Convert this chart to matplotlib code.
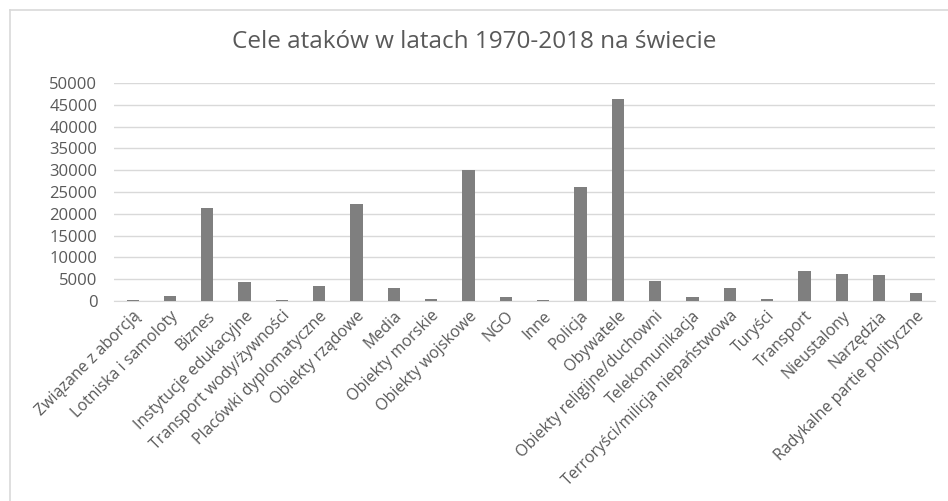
import matplotlib
matplotlib.use("Agg")
import matplotlib.pyplot as plt
from matplotlib.lines import Line2D

categories = [
    "Związane z aborcją", "Lotniska i samoloty", "Biznes", "Instytucje edukacyjne",
    "Transport wody/żywności", "Placówki dyplomatyczne", "Obiekty rządowe", "Media",
    "Obiekty morskie", "Obiekty wojskowe", "NGO", "Inne", "Policja", "Obywatele",
    "Obiekty religijne/duchowni", "Telekomunikacja", "Terroryści/milicja niepaństwowa",
    "Turyści", "Transport", "Nieustalony", "Narzędzia", "Radykalne partie polityczne",
]
values = [
    263, 1150, 21300, 4370, 317, 3450, 22250, 2930, 350, 30000, 850, 137,
    26100, 46300, 4530, 850, 3000, 440, 6840, 6300, 5920, 1850,
]
yticks = list(range(0, 50001, 5000))

plt.rcParams['font.family'] = ['Open Sans', 'DejaVu Sans']
text_color = '#595959'

fig = plt.figure(figsize=(9.48, 5.01), dpi=100)
ax = fig.add_axes([114 / 948, 1 - 301 / 501, 821 / 948, 218 / 501])

x = range(len(categories))
ax.bar(x, values, width=0.33, color='#7f7f7f', zorder=3)

ax.set_xlim(-0.5, len(categories) - 0.5)
ax.set_ylim(0, 50000)
ax.set_yticks(yticks)
ax.set_yticklabels([str(v) for v in yticks], fontsize=12, color=text_color)
ax.set_xticks(list(x))
ax.set_xticklabels(categories, rotation=45, ha='right', rotation_mode='anchor',
                   fontsize=11.5, color=text_color)
ax.tick_params(axis='both', length=0)
ax.tick_params(axis='y', pad=12)
ax.tick_params(axis='x', pad=5)

ax.yaxis.grid(True, color='#d9d9d9', linewidth=1, zorder=0)
for s in ['top', 'right', 'left']:
    ax.spines[s].set_visible(False)
ax.spines['bottom'].set_color('#d9d9d9')

fig.text(474 / 948, 1 - 42 / 501, "Cele ataków w latach 1970-2018 na świecie",
         ha='center', va='center', fontsize=17.5, color=text_color)

# outer chart frame (only top and left edges visible)
fig.add_artist(Line2D([10 / 948, 1], [1 - 10 / 501, 1 - 10 / 501],
                      transform=fig.transFigure, color='#d9d9d9', linewidth=1.2))
fig.add_artist(Line2D([10 / 948, 10 / 948], [0, 1 - 10 / 501],
                      transform=fig.transFigure, color='#d9d9d9', linewidth=1.2))

fig.savefig("out.png", dpi=100)
